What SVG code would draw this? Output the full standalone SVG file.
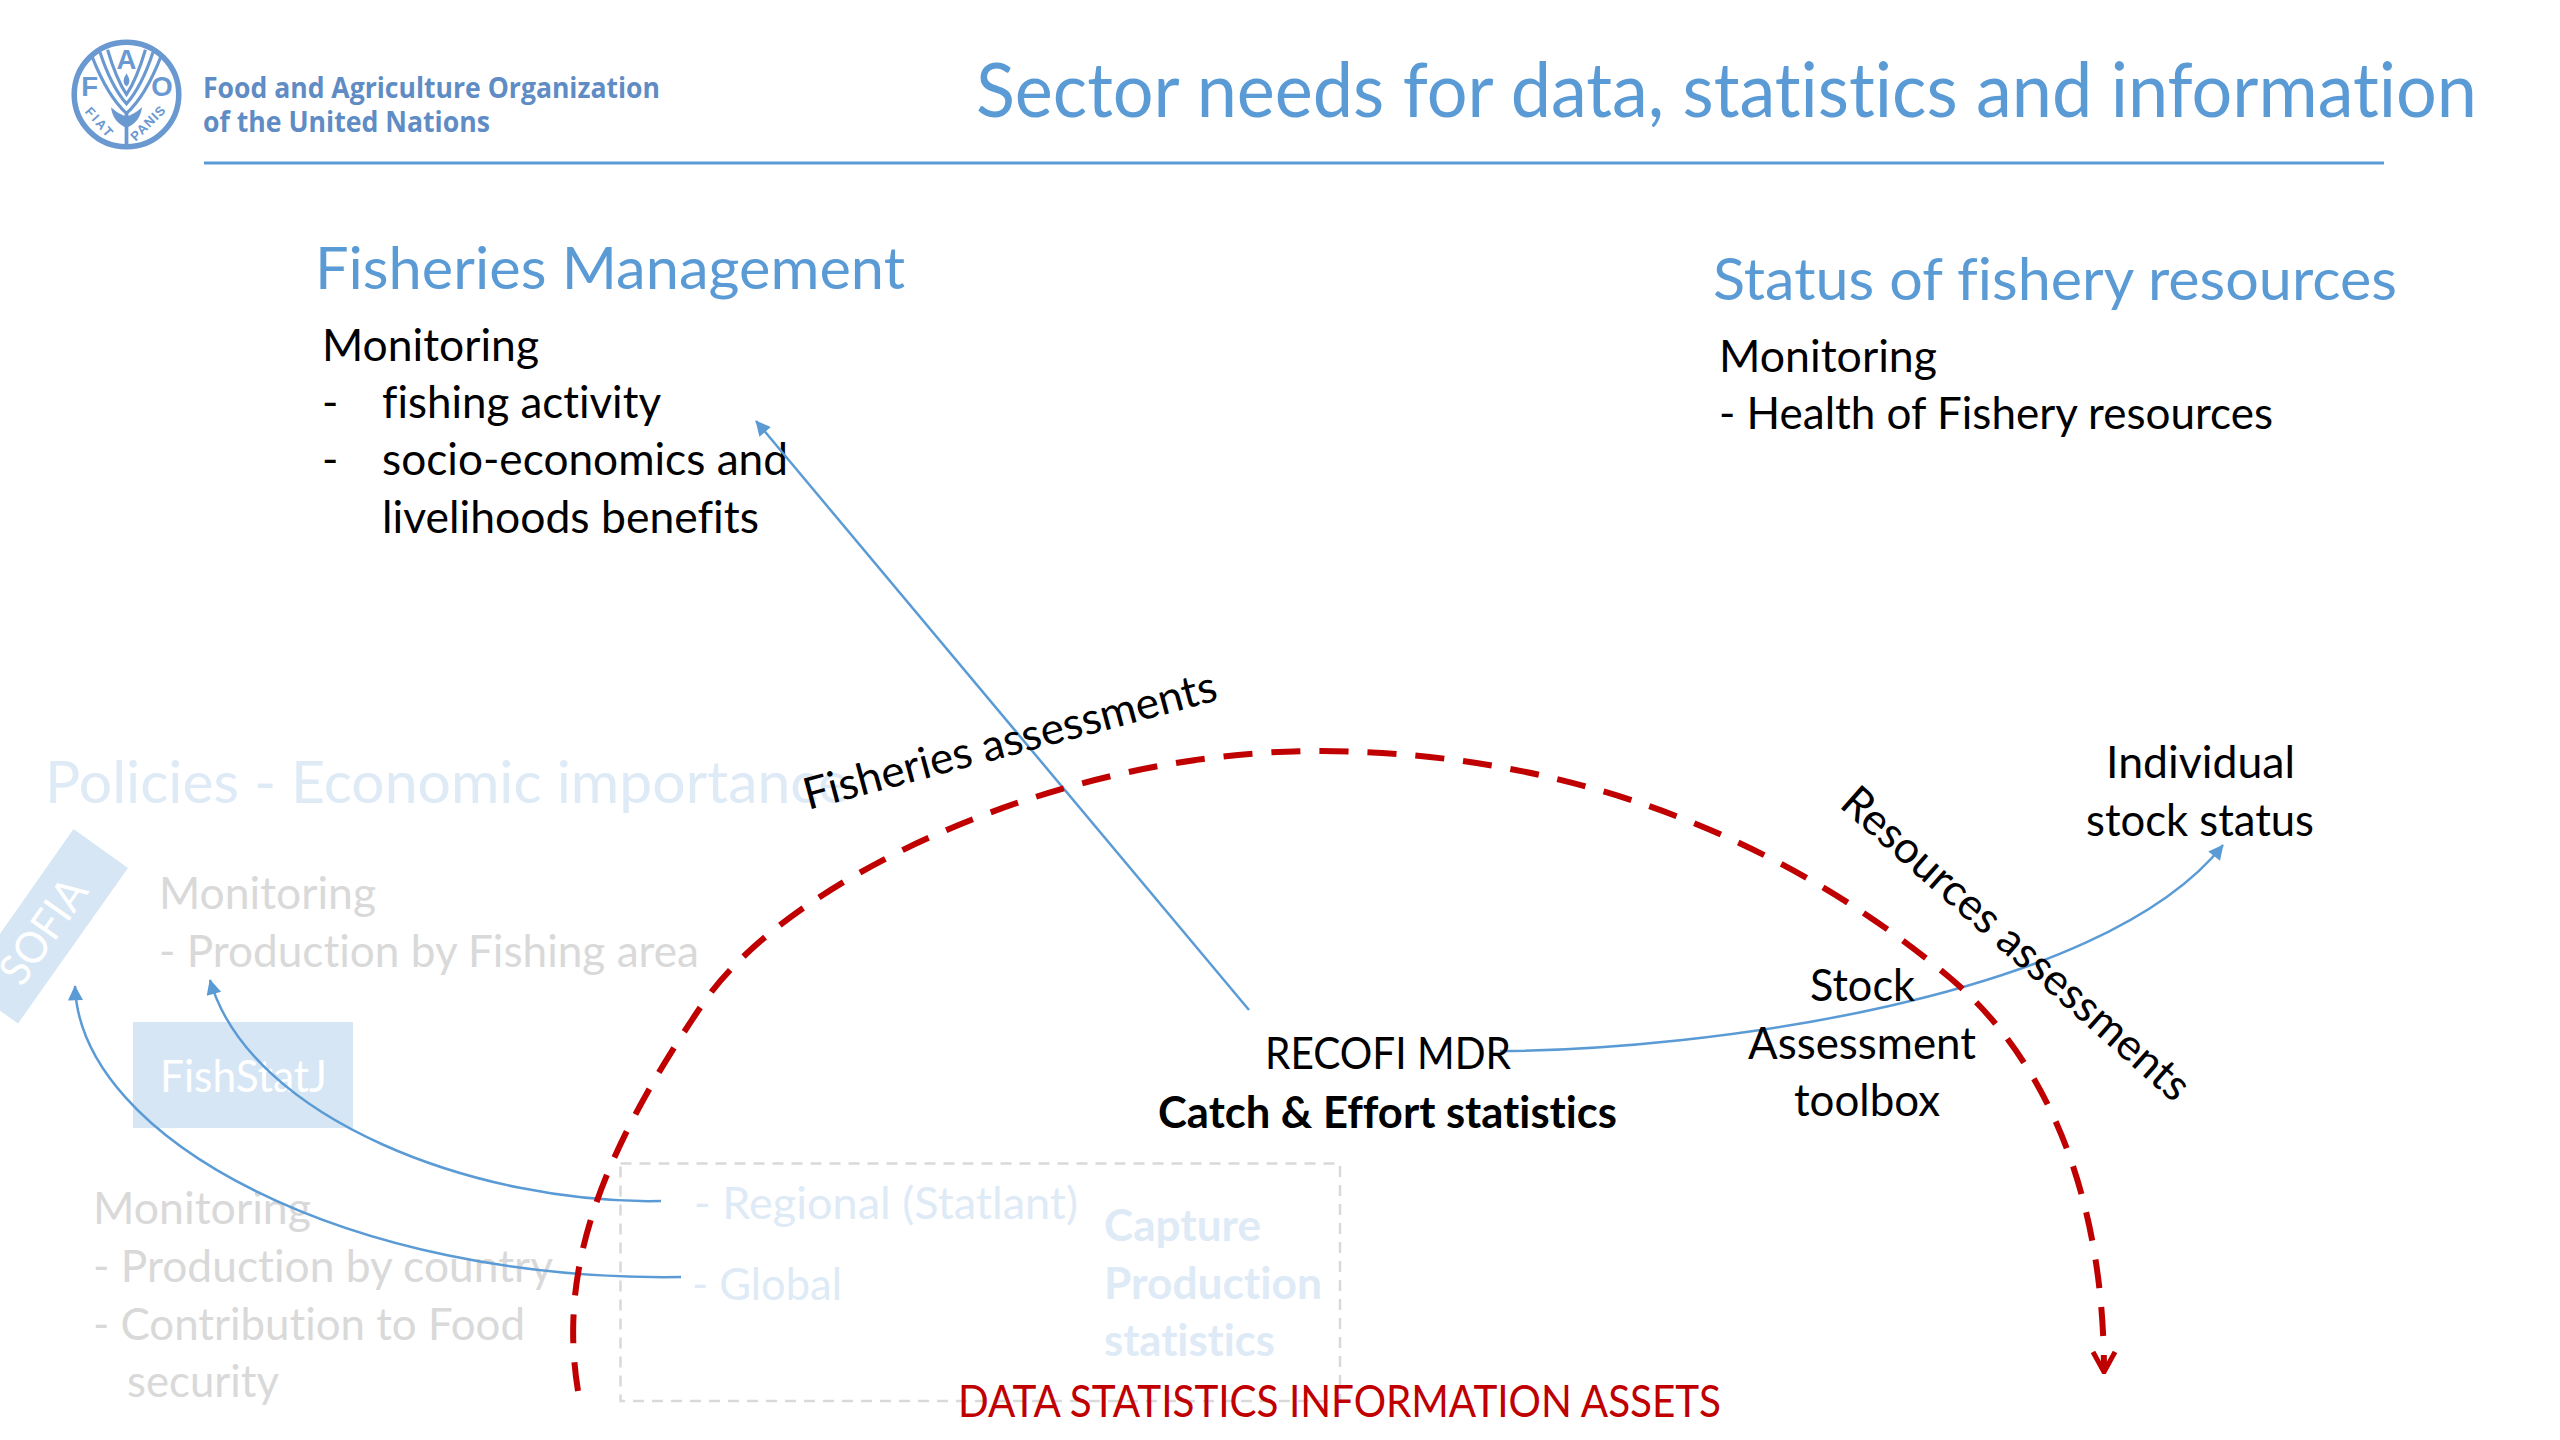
<svg xmlns="http://www.w3.org/2000/svg" width="2560" height="1440" viewBox="0 0 2560 1440">
<style>
text{font-family:"Lato","Open Sans",sans-serif;font-variant-ligatures:none}
.t{font-size:76px;fill:#5B9BD5}
.h{font-size:59px;fill:#5B9BD5}
.b{font-size:44px;fill:#000}
.bb{font-size:44px;fill:#000;font-weight:700}
.g{font-size:44px;fill:#D9D9D9}
.p{font-size:44px;fill:#DEEAF6}
.pb{font-size:44px;fill:#DEEAF6;font-weight:700}
.ph{font-size:59px;fill:#DEEAF6}
.w{font-size:44px;fill:#fff}
.r{font-size:44px;fill:#C00000}
.org{font-family:"Open Sans","Liberation Sans",sans-serif;font-size:29px;font-weight:700;fill:#5F8CC4}
.lg{font-family:"Liberation Sans",sans-serif;font-weight:700;fill:#6A98D0}
.blue{fill:none;stroke:#5B9BD5;stroke-width:2.5}
.logo{fill:none;stroke:#6A98D0}
</style>
<defs>
<marker id="tri" viewBox="0 0 10 10" refX="9.5" refY="5" markerWidth="20" markerHeight="15" markerUnits="userSpaceOnUse" orient="auto"><path d="M0 0L10 5L0 10Z" fill="#5B9BD5"/></marker>
<marker id="open" viewBox="0 0 24 26" refX="22" refY="13" markerWidth="24" markerHeight="26" markerUnits="userSpaceOnUse" orient="auto"><path d="M2 2L22 13L2 24" fill="none" stroke="#C00000" stroke-width="5"/></marker>
</defs>
<rect width="2560" height="1440" fill="#fff"/>
<g id="logo">
<g transform="translate(126.5,94.5) scale(.344) translate(-205,-195)">
<circle class="logo" cx="205" cy="195" r="152" stroke-width="16"/>
<path class="logo" stroke-width="9" d="M105 85Q150 200 205 250Q260 200 305 85M128 72Q160 170 205 222Q250 170 282 72M150 65Q175 150 205 195Q235 150 260 65"/>
<path class="logo" stroke-width="11" d="M205 250V350"/>
<path d="M205 133Q222 160 205 172Q188 160 205 133Z" fill="#6A98D0"/>
<path d="M160 232Q185 255 205 258Q225 255 250 232Q245 275 205 292Q165 275 160 232Z" fill="#6A98D0"/>
<text class="lg" x="205" y="122" font-size="80" text-anchor="middle">A</text>
<text class="lg" x="98" y="198" font-size="80" text-anchor="middle">F</text>
<text class="lg" x="308" y="198" font-size="80" text-anchor="middle">O</text>
<text class="lg" font-size="38" transform="translate(82,246) rotate(48)" textLength="100" lengthAdjust="spacing">FIAT</text>
<text class="lg" font-size="38" transform="translate(232,332) rotate(-45)" textLength="125" lengthAdjust="spacing">PANIS</text>
</g>
<text class="org" x="203" y="98" textLength="457" lengthAdjust="spacingAndGlyphs">Food and Agriculture Organization</text>
<text class="org" x="203" y="132" textLength="287" lengthAdjust="spacingAndGlyphs">of the United Nations</text>
</g>
<g id="title">
<text class="t" x="976" y="117" textLength="1501" lengthAdjust="spacingAndGlyphs">Sector needs for data, statistics and information</text>
<rect x="204" y="161.5" width="2180" height="3" fill="#5B9BD5"/>
</g>
<g id="fisheries-management">
<text class="h" x="315" y="289" textLength="590" lengthAdjust="spacingAndGlyphs">Fisheries Management</text>
<text class="b" x="322" y="361" textLength="217" lengthAdjust="spacingAndGlyphs">Monitoring</text>
<text class="b" x="322" y="418">-</text>
<text class="b" x="382" y="418" textLength="279" lengthAdjust="spacingAndGlyphs">fishing activity</text>
<text class="b" x="322" y="475">-</text>
<text class="b" x="382" y="475" textLength="406" lengthAdjust="spacingAndGlyphs">socio-economics and</text>
<text class="b" x="382" y="533" textLength="377" lengthAdjust="spacingAndGlyphs">livelihoods benefits</text>
</g>
<g id="status-resources">
<text class="h" x="1713" y="300" textLength="684" lengthAdjust="spacingAndGlyphs">Status of fishery resources</text>
<text class="b" x="1719" y="372" textLength="218" lengthAdjust="spacingAndGlyphs">Monitoring</text>
<text class="b" x="1719" y="429" textLength="554" lengthAdjust="spacingAndGlyphs">- Health of Fishery resources</text>
</g>
<g id="policies">
<text class="ph" x="45" y="803" textLength="804" lengthAdjust="spacingAndGlyphs">Policies - Economic importance</text>
<text class="g" x="159" y="909" textLength="217" lengthAdjust="spacingAndGlyphs">Monitoring</text>
<text class="g" x="159" y="967" textLength="540" lengthAdjust="spacingAndGlyphs">- Production by Fishing area</text>
</g>
<g id="sofia">
<polygon points="73.5,829 128,868 18,1023.5 -36,985" fill="#D6E6F4"/>
<text class="w" transform="translate(22,988) rotate(-55)" textLength="118" lengthAdjust="spacingAndGlyphs">SOFIA</text>
</g>
<g id="fishstatj">
<rect x="133" y="1022" width="220" height="106" fill="#D6E6F4"/>
<text class="w" x="160" y="1092" textLength="167" lengthAdjust="spacingAndGlyphs">FishStatJ</text>
</g>
<g id="monitoring-country">
<text class="g" x="93" y="1224" textLength="218" lengthAdjust="spacingAndGlyphs">Monitoring</text>
<text class="g" x="93" y="1282" textLength="460" lengthAdjust="spacingAndGlyphs">- Production by country</text>
<text class="g" x="93" y="1340" textLength="432" lengthAdjust="spacingAndGlyphs">- Contribution to Food</text>
<text class="g" x="127" y="1397" textLength="152" lengthAdjust="spacingAndGlyphs">security</text>
</g>
<g id="capture">
<rect x="620.5" y="1163.5" width="719.5" height="237.5" fill="none" stroke="#D9D9D9" stroke-width="2.5" stroke-dasharray="11 8"/>
<text class="p" x="694" y="1219" textLength="384" lengthAdjust="spacingAndGlyphs">- Regional (Statlant)</text>
<text class="p" x="692" y="1300" textLength="150" lengthAdjust="spacingAndGlyphs">- Global</text>
<text class="pb" x="1104" y="1241" textLength="157" lengthAdjust="spacingAndGlyphs">Capture</text>
<text class="pb" x="1104" y="1299" textLength="218" lengthAdjust="spacingAndGlyphs">Production</text>
<text class="pb" x="1104" y="1356" textLength="171" lengthAdjust="spacingAndGlyphs">statistics</text>
</g>
<g id="connectors">
<path class="blue" d="M1249 1010L756 421" marker-end="url(#tri)"/>
<path class="blue" d="M661 1201C480 1205 250 1120 210 980" marker-end="url(#tri)"/>
<path class="blue" d="M681 1277C350 1282 80 1140 75 986" marker-end="url(#tri)"/>
<path class="blue" d="M1500 1051C1700 1050 2100 1000 2223 845" marker-end="url(#tri)"/>
<path d="M578 1391C560 1280 590 1170 702 1005C785 880 1060 750 1321 751C1600 752 1810 860 1949 977C2055 1066 2104 1210 2104 1372" fill="none" stroke="#C00000" stroke-width="6" stroke-dasharray="29 19" marker-end="url(#open)"/>
</g>
<g id="recofi">
<text class="b" x="1265" y="1069" textLength="246" lengthAdjust="spacingAndGlyphs">RECOFI MDR</text>
<text class="bb" x="1158" y="1128" textLength="459" lengthAdjust="spacingAndGlyphs">Catch &amp; Effort statistics</text>
</g>
<g id="stock-toolbox">
<text class="b" x="1810" y="1001" textLength="105" lengthAdjust="spacingAndGlyphs">Stock</text>
<text class="b" x="1748" y="1059" textLength="228" lengthAdjust="spacingAndGlyphs">Assessment</text>
<text class="b" x="1794" y="1116" textLength="146" lengthAdjust="spacingAndGlyphs">toolbox</text>
</g>
<g id="stock-status">
<text class="b" x="2106" y="778" textLength="189" lengthAdjust="spacingAndGlyphs">Individual</text>
<text class="b" x="2086" y="836" textLength="228" lengthAdjust="spacingAndGlyphs">stock status</text>
</g>
<text class="b" transform="translate(808,810) rotate(-15)" textLength="426" lengthAdjust="spacingAndGlyphs">Fisheries assessments</text>
<text class="b" transform="translate(1838,806) rotate(41.5)" textLength="449" lengthAdjust="spacingAndGlyphs">Resources assessments</text>
<text class="r" x="958" y="1417" textLength="763" lengthAdjust="spacingAndGlyphs">DATA STATISTICS INFORMATION ASSETS</text>
</svg>
